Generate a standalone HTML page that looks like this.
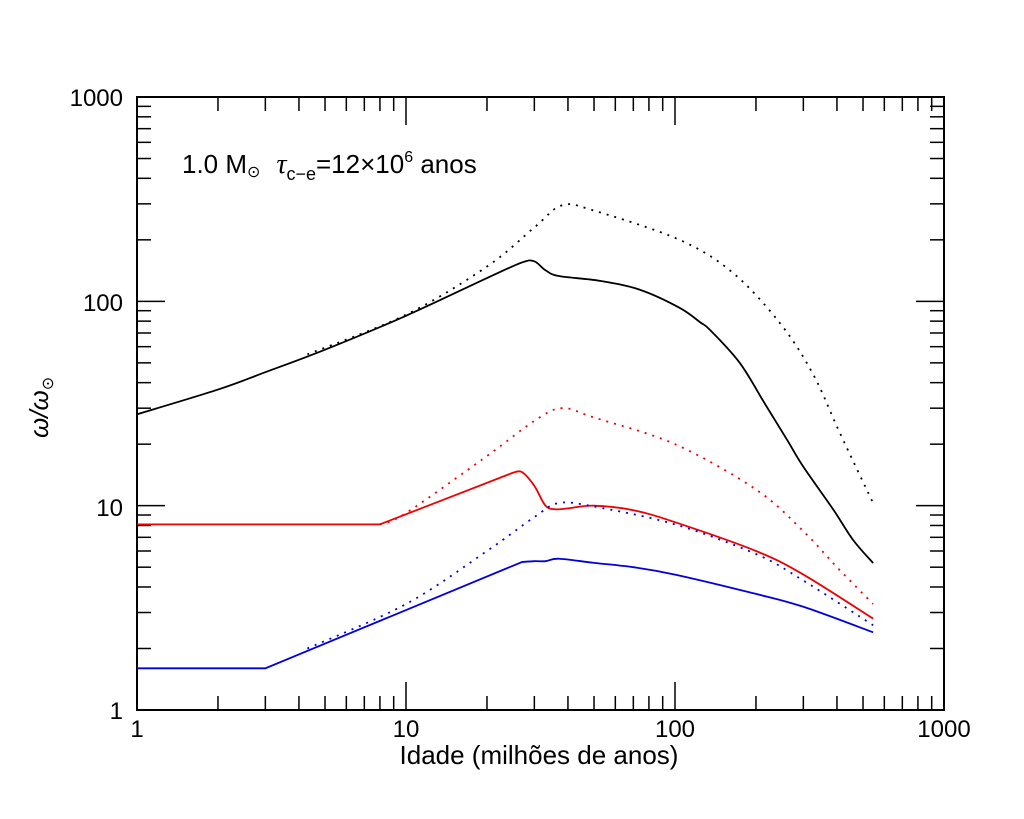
<!DOCTYPE html>
<html><head><meta charset="utf-8"><style>
html,body{margin:0;padding:0;background:#fff}
svg{display:block}
text{font-family:"Liberation Sans",sans-serif;fill:#000}
</style></head><body>
<svg id="s" width="1024" height="819" xmlns="http://www.w3.org/2000/svg">
<rect x="137" y="97" width="807" height="613" fill="none" stroke="#000" stroke-width="2"/>
<g font-size="24">
<text x="123" y="106" text-anchor="end">1000</text>
<text x="123" y="311" text-anchor="end">100</text>
<text x="123" y="516" text-anchor="end">10</text>
<text x="123" y="719" text-anchor="end">1</text>
<text x="137" y="737" text-anchor="middle">1</text>
<text x="406" y="737" text-anchor="middle">10</text>
<text x="675" y="737" text-anchor="middle">100</text>
<text x="944" y="737" text-anchor="middle">1000</text>
</g>
<text x="539" y="764" text-anchor="middle" font-size="26">Idade (milhões de anos)</text>
<text x="182" y="173" font-size="26">1.0 M<tspan font-size="16" dy="4">⊙</tspan><tspan dy="-4" dx="16" font-family="Liberation Serif" font-style="italic" font-size="28">τ</tspan><tspan font-size="18" dy="7">c−e</tspan><tspan dy="-7">=12×10</tspan><tspan font-size="16" dy="-11">6</tspan><tspan dy="11"> anos</tspan></text>
<text transform="translate(48,438) rotate(-90)" font-size="26" font-family="Liberation Serif" font-style="italic">ω/ω<tspan font-size="16" font-style="normal" dy="5">⊙</tspan></text>
<g id="t" stroke="#000" stroke-width="1.5"></g>
<g id="c" fill="none" stroke-width="1.8"></g>
</svg>
<script>
var X0=137,DX=269,Y0=710,DY=204.33;
function px(a){return X0+Math.log10(a)*DX}
function py(v){return Y0-Math.log10(v)*DY}
var t='';
for(var d=0;d<3;d++)for(var k=1;k<10;k++){var v=k*Math.pow(10,d);
 var x=px(v),L=k==1?28:14; if(d==0&&k==1)continue;
 t+='<line x1="'+x+'" y1="710" x2="'+x+'" y2="'+(710-L)+'"/><line x1="'+x+'" y1="97" x2="'+x+'" y2="'+(97+L)+'"/>';
 var y=py(v);
 t+='<line x1="137" y1="'+y+'" x2="'+(137+L)+'" y2="'+y+'"/><line x1="944" y1="'+y+'" x2="'+(944-L)+'" y2="'+y+'"/>';}
document.getElementById('t').innerHTML=t;
function seg(pts,first){var p=pts.map(function(q){return[px(q[0]),py(q[1])]});
 var s=first?'M'+p[0][0]+','+p[0][1]:' L'+p[0][0]+','+p[0][1];
 for(var i=0;i<p.length-1;i++){var p0=p[i-1]||p[i],p1=p[i],p2=p[i+1],p3=p[i+2]||p2;
  s+=' C'+(p1[0]+(p2[0]-p0[0])/6)+','+(p1[1]+(p2[1]-p0[1])/6)+' '+(p2[0]-(p3[0]-p1[0])/6)+','+(p2[1]-(p3[1]-p1[1])/6)+' '+p2[0]+','+p2[1];}
 return s;}
function path(segs){return segs.map(function(s,i){return seg(s,i==0)}).join('');}
var S=[
['#000',0,[[[1,28],[2,37],[3,45],[5,58],[10,85],[20,130],[27,155],[30,157],[33,142],[37,133],[52.6,126],[74,114],[104,93],[124,79],[135,72.4],[174,50],[216,31.5],[261,21],[300,15.5],[387,9.6],[459,6.8],[545,5.24]]]],
['#000',1,[[[4.3,55],[10,86],[20,148],[30,230],[38,295],[50,278],[104,200],[164,138],[246,78],[326,44],[410,22.7],[545,10.3]]]],
['#e00',0,[[[1,8.1],[8,8.1]],[[8,8.1],[25,14.5]],[[25,14.5],[27,14.6],[30,12.5],[33,10],[36,9.6],[40,9.7],[50,10],[70,9.5],[100,8.3],[200,6],[300,4.6],[545,2.8]]]],
['#e00',1,[[[8,8.1],[10,9.2],[20,17.5],[30,26],[38,30],[50,27],[100,20],[200,12],[300,7.5],[400,5],[545,3.3]]]],
['#00d',0,[[[1,1.6],[3,1.6]],[[3,1.6],[27,5.3]],[[27,5.3],[30,5.35],[33,5.35],[37,5.5],[50,5.25],[70,5.0],[100,4.6],[200,3.7],[300,3.2],[545,2.4]]]],
['#00d',1,[[[4.3,2.0],[10,3.3],[20,6],[30,8.8],[37,10.3],[50,9.9],[100,8.1],[200,5.8],[300,4.3],[545,2.6]]]]];
var c='';
S.forEach(function(s){c+='<path d="'+path(s[2])+'" stroke="'+s[0]+'"'+(s[1]?' stroke-dasharray="2,6"':'')+'/>';});
document.getElementById('c').innerHTML=c;
</script>
</body></html>
